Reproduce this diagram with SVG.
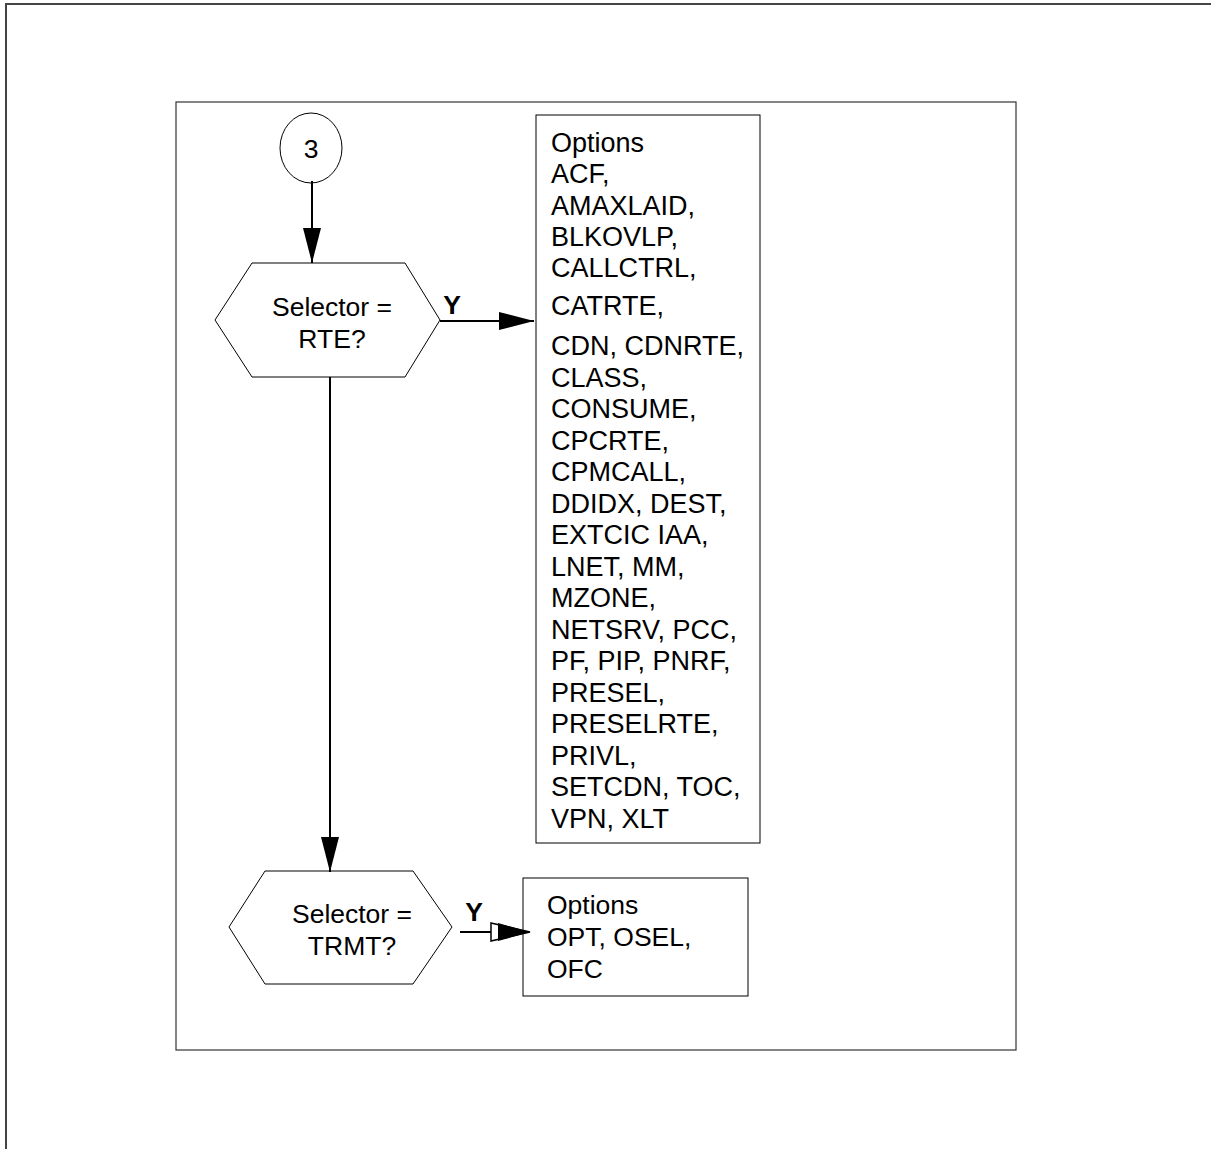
<svg xmlns="http://www.w3.org/2000/svg" width="1211" height="1149" viewBox="0 0 1211 1149">
<style>
text{font-family:"Liberation Sans",Arial,sans-serif;font-size:26.5px;fill:#000}
.bx{font-size:27px}
.b{font-weight:bold}
.sh{fill:#fff;stroke:#000;stroke-width:1}
.ln{stroke:#000;stroke-width:2;fill:none}
</style>
<defs>
<marker id="ah" viewBox="0 0 35 18" refX="35" refY="9" markerWidth="35" markerHeight="18" markerUnits="userSpaceOnUse" orient="auto">
<path d="M0,0 L35,9 L0,18 Z" fill="#000"/>
</marker>
</defs>
<rect width="1211" height="1149" fill="#fff"/>
<path d="M6,1149 V4 H1211" fill="none" stroke="#444" stroke-width="2"/>
<rect x="176" y="102" width="840" height="948" fill="none" stroke="#333" stroke-width="1.2"/>

<g id="n3">
<ellipse class="sh" cx="311" cy="148" rx="31" ry="35"/>
<text x="311" y="158" text-anchor="middle">3</text>
</g>
<g id="rte">
<polygon class="sh" points="252,263 405,263 440,320 405,377 252,377 215,320"/>
<text x="332" y="316" text-anchor="middle">Selector =</text>
<text x="332" y="348" text-anchor="middle">RTE?</text>
</g>
<g id="opt1">
<rect class="sh" x="536" y="115" width="224" height="728"/>
<text class="bx" x="551">
<tspan x="551" y="152">Options</tspan>
<tspan x="551" y="183">ACF,</tspan>
<tspan x="551" y="215">AMAXLAID,</tspan>
<tspan x="551" y="246">BLKOVLP,</tspan>
<tspan x="551" y="277">CALLCTRL,</tspan>
<tspan x="551" y="315">CATRTE,</tspan>
<tspan x="551" y="355">CDN, CDNRTE,</tspan>
<tspan x="551" y="386.5">CLASS,</tspan>
<tspan x="551" y="418">CONSUME,</tspan>
<tspan x="551" y="449.5">CPCRTE,</tspan>
<tspan x="551" y="481">CPMCALL,</tspan>
<tspan x="551" y="512.5">DDIDX, DEST,</tspan>
<tspan x="551" y="544">EXTCIC IAA,</tspan>
<tspan x="551" y="575.5">LNET, MM,</tspan>
<tspan x="551" y="607">MZONE,</tspan>
<tspan x="551" y="638.5">NETSRV, PCC,</tspan>
<tspan x="551" y="670">PF, PIP, PNRF,</tspan>
<tspan x="551" y="701.5">PRESEL,</tspan>
<tspan x="551" y="733">PRESELRTE,</tspan>
<tspan x="551" y="764.5">PRIVL,</tspan>
<tspan x="551" y="796">SETCDN, TOC,</tspan>
<tspan x="551" y="827.5">VPN, XLT</tspan>
</text>
</g>
<g id="trmt">
<polygon class="sh" points="265,871 413,871 452,927 413,984 265,984 229,927"/>
<text x="352" y="923" text-anchor="middle">Selector =</text>
<text x="352" y="955" text-anchor="middle">TRMT?</text>
</g>
<g id="opt2">
<rect class="sh" x="523" y="878" width="225" height="118"/>
<text x="547" y="914">Options</text>
<text x="547" y="946">OPT, OSEL,</text>
<text x="547" y="978">OFC</text>
</g>

<g id="connectors">
<line class="ln" x1="312" y1="181" x2="312" y2="263" marker-end="url(#ah)"/>
<line class="ln" x1="440" y1="321" x2="534" y2="321" marker-end="url(#ah)"/>
<text class="b" x="452" y="314" text-anchor="middle">Y</text>
<line class="ln" x1="330" y1="377" x2="330" y2="872" marker-end="url(#ah)"/>
<line class="ln" x1="460" y1="932" x2="500" y2="932"/>
<polygon points="491,923 530,932 491,941" fill="#fff" stroke="#000" stroke-width="1.5"/>
<polygon points="498,923 530,932 498,941" fill="#000"/>
<text class="b" x="474" y="921" text-anchor="middle">Y</text>
</g>
</svg>
